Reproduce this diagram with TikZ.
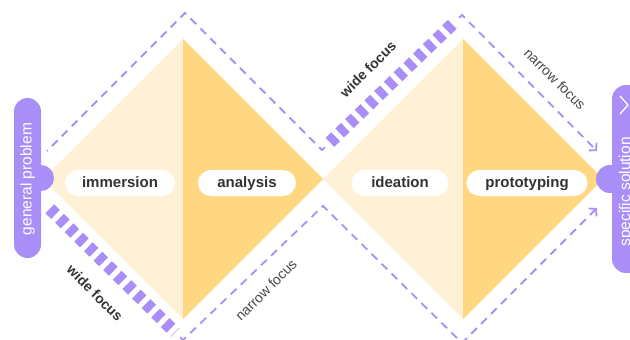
\documentclass[tikz,border=0pt]{standalone}
\usepackage{fontspec}
\setmainfont{Liberation Sans}
\usetikzlibrary{arrows.meta,calc}
\definecolor{lightfill}{HTML}{FFF1D6}
\definecolor{darkfill}{HTML}{FFD780}
\definecolor{vio}{HTML}{A98EF7}
\definecolor{ink}{HTML}{333333}
\definecolor{softink}{HTML}{484848}
\begin{document}
\begin{tikzpicture}[x=1pt,y=-1pt,
  thindash/.style={vio, line width=1.8pt, dash pattern=on 8pt off 6pt},
  thickdash/.style={vio, line width=12.5pt, dash pattern=on 8pt off 5.5pt},
  barb/.style={-{Straight Barb[length=5pt,width=11pt,line width=1.8pt]}},
  stage/.style={fill=white, rounded corners=13pt, minimum height=26pt, inner sep=0pt, text height=11pt, text depth=3pt, text=ink, font=\fontsize{15}{18}\selectfont\bfseries},
  focus/.style={text=ink, font=\fontsize{14}{16}\selectfont\bfseries},
  narrow/.style={text=softink, font=\fontsize{14}{16}\selectfont},
  pilltext/.style={text=white, rotate=90, font=\fontsize{15.5}{18}\selectfont},
]
\clip (0,0) rectangle (630,340);
% diamonds
\coordinate (d1L) at (43,179);
\coordinate (d1T) at (183,39);
\coordinate (mid) at (323,179);
\coordinate (d1B) at (183,319);
\coordinate (d2T) at (463,39);
\coordinate (d2R) at (603,179);
\coordinate (d2B) at (463,319);
\fill[lightfill] (d1L) -- (d1T) -- (d1B) -- cycle;
\fill[darkfill] (d1T) -- (mid) -- (d1B) -- cycle;
\fill[lightfill] (mid) -- (d2T) -- (d2B) -- cycle;
\fill[darkfill] (d2T) -- (d2R) -- (d2B) -- cycle;
% outline coordinates
\coordinate (o1) at (47,151);
\coordinate (o2) at (185,13);
\coordinate (o3) at (322,150);
\coordinate (o4) at (462,15);
\coordinate (o5) at (597,151);
\coordinate (u1) at (47,206);
\coordinate (u2) at (183,340);
\coordinate (u3) at (323,206);
\coordinate (u4) at (462,343);
\coordinate (u5) at (597,208);
% top path
\draw[thindash] ($(o3)!4pt!(o4)$) -- (o3) -- (o2) -- (o1);
\draw[thindash, barb] ($(o4)!4pt!(o3)$) -- (o4) -- (o5);
\draw[thickdash] ($(o3)!11pt!(o4)$) -- ($(o4)!11pt!(o3)$);
% bottom path
\draw[thindash, barb] ($(u2)!4pt!(u1)$) -- (u2) -- (u3) -- (u4) -- (u5);
\draw[thickdash] ($(u1)!4pt!(u2)$) -- ($(u2)!11pt!(u1)$);
% left pill
\fill[vio, rounded corners=13.5pt] (14,98) rectangle (41,258);
\fill[vio] (41,178) circle[radius=13];
\node[pilltext] (gp) at (27.5,179) {general problem};
% right pill
\fill[vio, rounded corners=14pt] (612,85) rectangle (642,273);
\fill[vio] (610,179) circle[radius=14];
\node[pilltext] (ss) at (626,192) {specific solution};
\coordinate (chevA) at (620,96);
\coordinate (chevB) at (628,105);
\coordinate (chevC) at (620,114);
\draw[white, line width=1.3pt] (chevA) -- (chevB) -- (chevC);
% stage labels
\node[stage, minimum width=110pt] (imm) at (120,183) {immersion};
\node[stage, minimum width=98pt] (ana) at (247,183) {analysis};
\node[stage, minimum width=97pt] (ide) at (400,183) {ideation};
\node[stage, minimum width=121pt] (pro) at (527,183) {prototyping};
% focus labels
\node[focus, rotate=-45] (wf1) at (95,293) {wide focus};
\node[focus, rotate=45] (wf2) at (368,69) {wide focus};
\node[narrow, rotate=-45] (nf1) at (555,79) {narrow focus};
\node[narrow, rotate=45] (nf2) at (266,290) {narrow focus};
\end{tikzpicture}
\end{document}
